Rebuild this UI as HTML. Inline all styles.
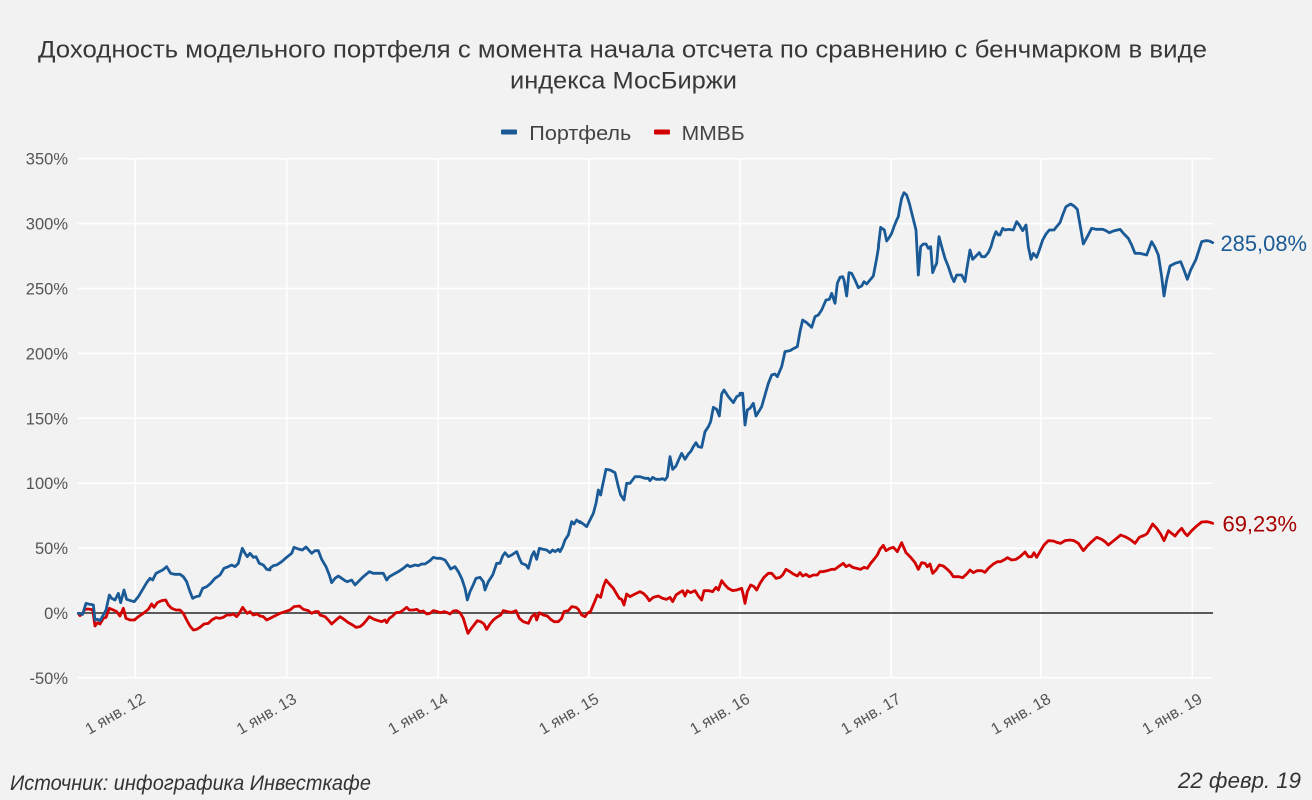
<!DOCTYPE html>
<html>
<head>
<meta charset="utf-8">
<style>
html,body{margin:0;padding:0;background:#f2f2f2;}
svg{display:block;}
text{font-family:"Liberation Sans",Arial,sans-serif;}
</style>
</head>
<body>
<svg width="1312" height="800" viewBox="0 0 1312 800" xmlns="http://www.w3.org/2000/svg">
<rect x="0" y="0" width="1312" height="800" fill="#f2f2f2"/>

<!-- Title -->
<text x="38" y="57.5" font-size="24" fill="#383838" textLength="1169" lengthAdjust="spacingAndGlyphs">Доходность модельного портфеля с момента начала отсчета по сравнению с бенчмарком в виде</text>
<text x="510" y="88.5" font-size="24" fill="#383838" textLength="227" lengthAdjust="spacingAndGlyphs">индекса МосБиржи</text>

<!-- Legend -->
<rect x="501" y="129.5" width="16" height="5" rx="1" fill="#1a5a96"/>
<text x="529.3" y="140" font-size="20" fill="#444" textLength="102" lengthAdjust="spacingAndGlyphs">Портфель</text>
<rect x="654" y="129.5" width="16" height="5" rx="1" fill="#d20000"/>
<text x="681.7" y="140" font-size="20" fill="#444" textLength="63" lengthAdjust="spacingAndGlyphs">ММВБ</text>

<!-- Grid -->
<g stroke="#ffffff" stroke-width="1.5">
  <line x1="77.7" y1="158.7" x2="1213" y2="158.7"/>
  <line x1="77.7" y1="223.6" x2="1213" y2="223.6"/>
  <line x1="77.7" y1="288.5" x2="1213" y2="288.5"/>
  <line x1="77.7" y1="353.4" x2="1213" y2="353.4"/>
  <line x1="77.7" y1="418.3" x2="1213" y2="418.3"/>
  <line x1="77.7" y1="483.2" x2="1213" y2="483.2"/>
  <line x1="77.7" y1="548.1" x2="1213" y2="548.1"/>
  <line x1="77.7" y1="677.9" x2="1213" y2="677.9"/>
  <line x1="135.3" y1="158.7" x2="135.3" y2="677.9"/>
  <line x1="286.7" y1="158.7" x2="286.7" y2="677.9"/>
  <line x1="438.2" y1="158.7" x2="438.2" y2="677.9"/>
  <line x1="589" y1="158.7" x2="589" y2="677.9"/>
  <line x1="740" y1="158.7" x2="740" y2="677.9"/>
  <line x1="891" y1="158.7" x2="891" y2="677.9"/>
  <line x1="1041" y1="158.7" x2="1041" y2="677.9"/>
  <line x1="1192.3" y1="158.7" x2="1192.3" y2="677.9"/>
</g>
<line x1="77.7" y1="613" x2="1213" y2="613" stroke="#5a5a5a" stroke-width="2"/>

<!-- Y labels -->
<g font-size="16.5" fill="#555" text-anchor="end">
  <text x="68" y="164.7">350%</text>
  <text x="68" y="229.6">300%</text>
  <text x="68" y="294.5">250%</text>
  <text x="68" y="359.4">200%</text>
  <text x="68" y="424.3">150%</text>
  <text x="68" y="489.2">100%</text>
  <text x="68" y="554.1">50%</text>
  <text x="68" y="619">0%</text>
  <text x="68" y="683.9">-50%</text>
</g>

<!-- X labels -->
<g font-size="16" fill="#555" text-anchor="end">
  <text transform="translate(146.3,702) rotate(-30)">1 янв. 12</text>
  <text transform="translate(297.7,702) rotate(-30)">1 янв. 13</text>
  <text transform="translate(449.2,702) rotate(-30)">1 янв. 14</text>
  <text transform="translate(600,702) rotate(-30)">1 янв. 15</text>
  <text transform="translate(751,702) rotate(-30)">1 янв. 16</text>
  <text transform="translate(902,702) rotate(-30)">1 янв. 17</text>
  <text transform="translate(1052,702) rotate(-30)">1 янв. 18</text>
  <text transform="translate(1203.3,702) rotate(-30)">1 янв. 19</text>
</g>

<!-- Red series (ММВБ) -->
<g fill="none" stroke="#d20000" stroke-width="2.8" stroke-linejoin="round" stroke-linecap="round">
<polyline vector-effect="non-scaling-stroke" transform="translate(0,520) scale(0.33333)" points="235,280 240,287 248,280 255,268 263,267 272,268 278,270 285,318 293,308 300,312 310,295 318,292 328,265 340,270 350,275 360,288 370,265 378,295 390,300 403,300 415,290 430,280 445,268 455,252 462,262 472,248 485,242 497,240 505,255 515,265 528,270 540,270 550,280 560,300 570,318 580,330 590,328 600,322 612,312 625,310 635,300 648,293 660,295 670,292 680,285 692,285 700,282 710,290 718,280 728,262 735,272 742,280 750,275 760,285 772,282 780,288 790,290 800,300 810,295"/>
<polyline vector-effect="non-scaling-stroke" transform="translate(270,450) scale(0.33333)" points="0,505 10,500 20,495 30,490 45,485 60,480 72,470 88,468 100,478 115,482 125,490 135,485 145,485 150,495 165,500 175,510 185,522 198,510 210,500 222,508 235,518 248,525 258,532 270,530 280,522 290,510 298,500 312,508 325,512 335,515 345,510 350,518 358,505 368,498 378,488 390,487 400,480 410,472 418,480 430,480 440,478 450,485 460,483 470,492 480,490 490,482 502,485 512,488 522,485 530,487 540,492 550,483 560,482 570,488 580,505 588,532 594,550 602,538 612,525 622,512 632,515 642,522 650,538 660,522 670,510 680,502 692,495 700,482 712,485 725,487 738,482 748,505 760,515 775,520 785,500 795,492 800,510 808,488 820,495 832,498 842,508 852,515 865,515 875,505 882,485 895,482 905,470 918,472 925,478 935,495 945,500 952,490 960,485"/>
<polyline vector-effect="non-scaling-stroke" transform="translate(580,520) scale(0.33333)" points="30,278 42,250 52,225 62,232 70,200 78,180 88,192 100,205 110,222 118,235 125,238 132,255 140,222 150,230 165,222 180,215 190,220 200,230 208,242 220,232 235,228 248,235 260,238 270,232 278,245 288,225 298,218 308,212 315,228 322,212 332,218 345,212 355,228 365,240 372,212 385,212 398,215 408,202 415,210 425,182 435,195 445,205 458,212 470,210 485,205 490,225 495,250 502,215 512,195 522,200 530,210 540,190 552,172 565,160 575,160 588,175 600,172 608,165 618,148 630,155 640,162 652,168 660,158 668,168 678,163 688,170 700,165 712,165 720,155 730,155 742,152 755,148 765,148 775,140 790,130 798,140 808,135 818,142 830,145 842,148 852,142 862,145 872,130 882,118 892,105 900,88 910,76 918,92 930,85"/>
<polyline vector-effect="non-scaling-stroke" transform="translate(890,510) scale(0.33333)" points="0,115 10,112 22,125 35,98 48,128 62,142 75,158 85,178 95,158 105,160 112,170 120,162 128,190 138,180 148,165 160,168 172,178 182,188 190,200 205,200 218,203 230,192 240,180 250,188 262,182 275,182 285,187 295,175 310,162 322,155 332,155 345,148 352,143 365,150 378,148 390,140 405,126 415,140 425,140 432,128 440,142 450,125 462,105 475,92 490,93 500,97 512,100 525,92 540,90 552,92 565,100 580,122 592,108 605,95 620,82 635,88 645,95 655,105 665,97 680,85 692,75 705,80 720,88 735,100 748,82 765,75 772,70 788,42 800,55 812,72 822,92 835,62 845,70 855,78 865,65 875,55 885,70 892,77 905,62 920,48 935,36 950,35 960,37 968,40"/>
</g>

<!-- Blue series (Портфель) -->
<g fill="none" stroke="#1a5a96" stroke-width="2.8" stroke-linejoin="round" stroke-linecap="round">
<polyline vector-effect="non-scaling-stroke" transform="translate(0,520) scale(0.33333)" points="235,280 248,283 258,250 265,252 275,254 280,255 285,300 293,298 300,302 310,285 318,270 328,225 335,235 345,240 355,220 362,248 372,210 380,238 392,242 403,245 415,230 430,205 440,188 450,175 458,180 468,160 478,155 488,150 500,140 512,160 525,163 540,163 550,170 560,185 570,215 578,235 588,230 598,228 608,205 620,200 632,190 645,175 660,165 672,145 685,140 695,135 705,140 715,130 720,110 727,85 735,100 742,110 750,100 760,112 768,110 778,130 790,135 800,148 810,150"/>
<polyline vector-effect="non-scaling-stroke" transform="translate(270,450) scale(0.33333)" points="0,355 10,347 20,345 35,335 50,322 65,310 72,292 85,297 97,300 108,291 118,302 125,310 135,302 145,302 155,328 168,350 178,375 185,398 195,385 205,378 215,385 225,392 232,395 245,390 255,405 265,395 280,380 298,365 310,370 325,370 340,370 350,390 358,380 372,372 385,365 400,355 412,345 420,350 435,345 445,347 455,342 465,342 480,332 490,322 500,325 512,325 525,330 535,345 542,357 555,350 565,365 575,385 585,415 592,450 600,425 608,408 618,385 630,382 640,395 645,420 655,395 668,375 675,355 680,340 690,340 698,318 705,308 715,320 725,315 740,305 748,325 755,340 768,345 775,355 785,318 792,305 800,328 808,295 820,298 830,300 840,308 848,300 855,305 865,298 870,305 878,290 885,270 895,255 905,215 912,222 920,210 930,218"/>
<polyline vector-effect="non-scaling-stroke" transform="translate(580,250) scale(0.33333)" points="0,815 10,822 20,830 30,810 40,790 48,760 55,720 62,735 68,705 78,658 90,660 105,668 115,710 122,735 132,750 140,700 150,700 165,680 180,680 195,685 205,685 210,692 218,682 228,688 240,688 248,686 255,690 262,680 270,620 278,658 288,648 298,625 305,610 315,628 325,612 332,605 340,590 348,578 355,590 365,592 375,545 385,530 392,515 400,472 410,478 418,498 425,432 432,420 445,440 460,458 470,440 480,435"/>
<polyline vector-effect="non-scaling-stroke" transform="translate(740,240) scale(0.33333)" points="0,460 8,460 15,555 22,510 30,505 40,490 48,528 58,512 65,500 75,465 85,430 95,405 105,402 112,410 125,380 135,335 150,332 162,325 172,320 180,275 188,240 200,248 215,262 225,230 235,225 245,210 258,180 268,178 275,160 285,190 292,130 300,112 308,110 312,120 320,168 327,98 335,100 345,120 355,143 365,138 372,125 380,132 390,120 400,108 410,55 416,20"/>
<polyline vector-effect="non-scaling-stroke" transform="translate(790,180) scale(0.33333)" points="265,200 272,142 283,150 290,183 298,172 305,160 312,140 320,120 325,110 330,80 335,55 342,38 350,45 358,70 368,110 378,150 385,285 392,200 400,192 408,192 415,205 422,200 428,278 435,260 440,250 447,170 455,200 465,235 475,260 485,290 492,305 500,285 515,285 525,305 530,270 540,210 548,238 558,228 568,218 575,230 585,230 595,218 603,200 610,175 618,155 625,165"/>
<polyline vector-effect="non-scaling-stroke" transform="translate(1000,160) scale(0.33333)" points="0,225 8,205 15,210 25,208 40,210 50,185 58,195 68,212 78,195 85,260 93,298 100,280 110,292 118,270 128,240 138,222 148,210 162,210 170,200 180,188 188,165 198,140 212,132 222,138 232,148 242,205 250,252 262,230 275,205 290,208 308,208 318,212 328,218 340,213 360,208 372,222 385,235 395,255 405,280 420,280 440,285 455,245 465,262 475,285 485,350 492,408 500,360 510,318 525,310 542,305 552,330 562,358 572,330 588,298 605,245 618,242 628,243 638,248"/>
</g>

<!-- End labels -->
<text x="1220.5" y="251" font-size="22" fill="#1a5a96" textLength="86.5" lengthAdjust="spacingAndGlyphs">285,08%</text>
<text x="1222.5" y="531.5" font-size="22" fill="#a80000" textLength="74.5" lengthAdjust="spacingAndGlyphs">69,23%</text>

<!-- Footer -->
<text x="10" y="790" font-size="21" font-style="italic" fill="#333" textLength="361" lengthAdjust="spacingAndGlyphs">Источник: инфографика Инвесткафе</text>
<text x="1178" y="788" font-size="22" font-style="italic" fill="#333" textLength="123" lengthAdjust="spacingAndGlyphs">22 февр. 19</text>
</svg>
</body>
</html>
